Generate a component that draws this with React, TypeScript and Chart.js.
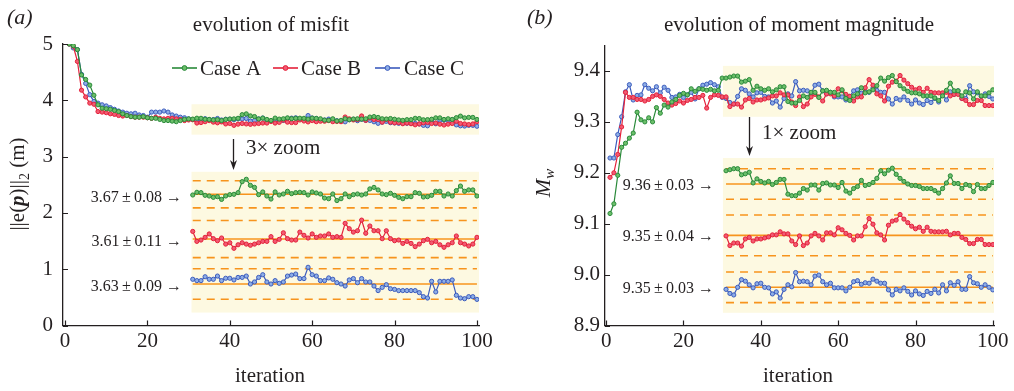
import React, { useEffect, useRef } from "react";
import { Chart, registerables } from "chart.js";

Chart.register(...registerables);

// ---------------- data ----------------
const iterations: number[] = Array.from({ length: 100 }, (_, i) => i + 1);
const caseNames = ["Case A", "Case B", "Case C"];

const misfitA = [
  5.0, 4.97, 4.9, 4.45, 4.37, 4.27, 4.09, 3.92, 3.86, 3.85, 3.84, 3.82, 3.8, 3.76, 3.73, 3.71, 3.7, 3.7, 3.71, 3.69,
  3.68, 3.68, 3.66, 3.64, 3.64, 3.63, 3.62, 3.64, 3.66, 3.67,
  3.666, 3.682, 3.68, 3.664, 3.66, 3.652, 3.656, 3.64, 3.66, 3.668, 3.67, 3.68, 3.745, 3.759, 3.723, 3.711, 3.668, 3.684,
  3.66, 3.642, 3.684, 3.666, 3.672, 3.688, 3.674, 3.68, 3.682, 3.68, 3.666, 3.684, 3.678, 3.672, 3.648, 3.644, 3.672, 3.633,
  3.644, 3.672, 3.656, 3.668, 3.672, 3.666, 3.672, 3.702, 3.711, 3.696, 3.672, 3.668, 3.676, 3.664, 3.652, 3.644, 3.656,
  3.656, 3.68, 3.676, 3.654, 3.656, 3.664, 3.688, 3.688, 3.66, 3.672, 3.66, 3.692, 3.719, 3.688, 3.696, 3.696, 3.66,
];
const misfitB = [
  5.0, 4.96, 4.69, 4.18, 4.06, 3.95, 3.93, 3.8, 3.79, 3.78, 3.76, 3.75, 3.73, 3.72, 3.73, 3.71, 3.7, 3.7, 3.7, 3.69,
  3.68, 3.7, 3.68, 3.67, 3.68, 3.68, 3.67, 3.66, 3.64, 3.65,
  3.655, 3.596, 3.604, 3.62, 3.64, 3.612, 3.6, 3.616, 3.58, 3.588, 3.555, 3.576, 3.588, 3.58, 3.573, 3.58, 3.588, 3.596,
  3.596, 3.624, 3.596, 3.608, 3.647, 3.612, 3.604, 3.604, 3.651, 3.632, 3.616, 3.64, 3.62, 3.628, 3.628, 3.64, 3.62, 3.624,
  3.62, 3.703, 3.671, 3.651, 3.659, 3.722, 3.644, 3.687, 3.659, 3.659, 3.612, 3.659, 3.612, 3.6, 3.604, 3.584, 3.596,
  3.584, 3.565, 3.58, 3.6, 3.608, 3.588, 3.596, 3.576, 3.561, 3.576, 3.588, 3.628, 3.588, 3.58, 3.569, 3.58, 3.62,
];
const misfitC = [
  5.0, 4.93, 4.9, 4.46, 4.3, 4.1, 3.98, 3.95, 3.92, 3.9, 3.87, 3.84, 3.81, 3.79, 3.77, 3.76, 3.77, 3.74, 3.73, 3.7,
  3.79, 3.79, 3.79, 3.81, 3.79, 3.74, 3.72, 3.7, 3.69, 3.67,
  3.658, 3.65, 3.65, 3.673, 3.658, 3.658, 3.677, 3.65, 3.664, 3.664, 3.654, 3.669, 3.669, 3.677, 3.63, 3.642, 3.669, 3.685,
  3.642, 3.63, 3.65, 3.634, 3.642, 3.677, 3.683, 3.689, 3.662, 3.662, 3.729, 3.685, 3.677, 3.65, 3.65, 3.666, 3.658, 3.638,
  3.63, 3.618, 3.654, 3.662, 3.638, 3.662, 3.642, 3.642, 3.618, 3.591, 3.61, 3.626, 3.602, 3.598, 3.591, 3.591, 3.591,
  3.591, 3.591, 3.579, 3.555, 3.547, 3.646, 3.583, 3.646, 3.646, 3.646, 3.654, 3.563, 3.547, 3.543, 3.555, 3.555, 3.539,
];

const mwA = [
  9.12, 9.139, 9.195, 9.25, 9.258, 9.268, 9.278, 9.319, 9.304, 9.3, 9.308, 9.3, 9.328, 9.317, 9.333, 9.329, 9.339, 9.344,
  9.352, 9.356, 9.353, 9.365, 9.36, 9.365, 9.364, 9.362, 9.364, 9.361, 9.362, 9.386,
  9.386, 9.388, 9.39, 9.39, 9.378, 9.38, 9.383, 9.362, 9.37, 9.365, 9.362, 9.365, 9.359, 9.363, 9.369, 9.369, 9.34, 9.337,
  9.337, 9.342, 9.351, 9.348, 9.358, 9.358, 9.348, 9.361, 9.362, 9.358, 9.358, 9.353, 9.363, 9.346, 9.342, 9.351, 9.355, 9.367,
  9.357, 9.359, 9.363, 9.371, 9.386, 9.38, 9.387, 9.391, 9.379, 9.371, 9.365, 9.36, 9.357, 9.357, 9.355, 9.351, 9.351,
  9.351, 9.347, 9.342, 9.351, 9.362, 9.376, 9.361, 9.361, 9.351, 9.359, 9.357, 9.345, 9.359, 9.351, 9.351, 9.357, 9.363,
];
const mwB = [
  9.191, 9.2, 9.236, 9.29, 9.358, 9.348, 9.348, 9.344, 9.344, 9.341, 9.344, 9.35, 9.353, 9.35, 9.344, 9.337, 9.333, 9.336,
  9.341, 9.337, 9.342, 9.344, 9.348, 9.348, 9.352, 9.327, 9.348, 9.353, 9.352, 9.349,
  9.349, 9.33, 9.335, 9.335, 9.329, 9.343, 9.346, 9.339, 9.343, 9.343, 9.345, 9.347, 9.351, 9.351, 9.357, 9.353, 9.353, 9.339,
  9.332, 9.349, 9.33, 9.335, 9.349, 9.354, 9.349, 9.341, 9.355, 9.355, 9.351, 9.365, 9.361, 9.354, 9.35, 9.341, 9.349, 9.349,
  9.367, 9.383, 9.372, 9.355, 9.351, 9.341, 9.37, 9.378, 9.38, 9.391, 9.382, 9.375, 9.368, 9.363, 9.366, 9.358, 9.366,
  9.358, 9.357, 9.357, 9.357, 9.358, 9.351, 9.354, 9.354, 9.346, 9.342, 9.334, 9.334, 9.342, 9.342, 9.332, 9.332, 9.332,
];
const mwC = [
  9.229, 9.229, 9.275, 9.31, 9.359, 9.373, 9.343, 9.352, 9.353, 9.373, 9.366, 9.361, 9.369, 9.357, 9.368, 9.362, 9.348,
  9.349, 9.354, 9.348, 9.353, 9.358, 9.345, 9.365, 9.372, 9.374, 9.377, 9.373, 9.369, 9.348,
  9.346, 9.338, 9.335, 9.35, 9.365, 9.362, 9.355, 9.349, 9.357, 9.358, 9.35, 9.349, 9.337, 9.341, 9.329, 9.346, 9.355, 9.351,
  9.379, 9.361, 9.362, 9.361, 9.355, 9.372, 9.374, 9.361, 9.355, 9.358, 9.349, 9.349, 9.349, 9.343, 9.35, 9.361, 9.363, 9.356,
  9.359, 9.358, 9.366, 9.362, 9.358, 9.358, 9.345, 9.335, 9.346, 9.343, 9.349, 9.342, 9.335, 9.343, 9.337, 9.334, 9.342,
  9.338, 9.346, 9.339, 9.355, 9.343, 9.359, 9.354, 9.361, 9.346, 9.346, 9.371, 9.359, 9.357, 9.35, 9.355, 9.35, 9.345,
];

const xTickValues = [0, 20, 40, 60, 80, 100];
const misfitTickValues = [0, 1, 2, 3, 4, 5];
const mwTickValues = [8.9, 9.0, 9.1, 9.2, 9.3, 9.4];

const misfitMeans = [3.67, 3.61, 3.63];
const misfitStds = [0.08, 0.11, 0.09];
const mwMeans = [9.36, 9.35, 9.35];
const mwStds = [0.03, 0.04, 0.03];
const misfitInsetCenters = [2.33, 1.536, 0.737];
const mwInsetCenters = [9.178, 9.077, 8.975];
const misfitZoom = 3;
const mwZoom = 1;
const insetStart = 31;
const insetEnd = 100;

// ---------------- styles ----------------
const SERIF = '"Liberation Serif", "DejaVu Serif", "Times New Roman", serif';
const INK = "#231f20";
const LINE_COLORS = ["#2a8a3a", "#e4213a", "#3c5cbd"];
const FILL_COLORS = ["#6cbf6a", "#f25a72", "#8eaee6"];
const ORANGE = "#f7941d";
const BAND = "#fdf9e1";

type Panel = {
  series: number[][];
  means: number[];
  stds: number[];
  centers: number[];
  zoom: number;
  xRange: [number, number];
  yRange: [number, number];
  yTicks: number[];
  yDecimals: number;
  yAxisWidth: number;
  yLabelPad: number;
  padTop: number;
  padRight: number;
  xAxisHeight: number;
  bandX: [number, number];
  topBand: [number, number];
  insetBand: [number, number];
  offsetX: number;
  tag: string;
  tagX: number;
  title: string;
  titleX: number;
  xTitleX: number;
  arrowX: number;
  arrowY: [number, number];
  zoomText: string;
  zoomTextX: number;
  zoomTextY: number;
  labelRight: number;
  labelDy: number;
  legend: boolean;
  yTitle: "misfit" | "mw";
  yTitleX: number;
  yTitleY: number;
};

function drawYTitleMisfit(ctx: CanvasRenderingContext2D, cx: number, cy: number) {
  const pieces: { t: string; f: string; dy: number }[] = [
    { t: "||e(", f: `21px ${SERIF}`, dy: 0 },
    { t: "p", f: `italic bold 21px ${SERIF}`, dy: 0 },
    { t: ")||", f: `21px ${SERIF}`, dy: 0 },
    { t: "2", f: `14px ${SERIF}`, dy: 5 },
    { t: " (m)", f: `21px ${SERIF}`, dy: 0 },
  ];
  ctx.save();
  ctx.translate(cx, cy);
  ctx.rotate(-Math.PI / 2);
  let total = 0;
  for (const p of pieces) {
    ctx.font = p.f;
    total += ctx.measureText(p.t).width;
  }
  let x = -total / 2;
  ctx.textAlign = "left";
  ctx.textBaseline = "alphabetic";
  for (const p of pieces) {
    ctx.font = p.f;
    ctx.fillText(p.t, x, 7 + p.dy);
    x += ctx.measureText(p.t).width;
  }
  ctx.restore();
}

function drawYTitleMw(ctx: CanvasRenderingContext2D, cx: number, cy: number) {
  ctx.save();
  ctx.translate(cx, cy);
  ctx.rotate(-Math.PI / 2);
  ctx.font = `italic 22px ${SERIF}`;
  const wM = ctx.measureText("M").width;
  ctx.font = `italic 15px ${SERIF}`;
  const wW = ctx.measureText("w").width;
  let x = -(wM + wW) / 2;
  ctx.textAlign = "left";
  ctx.textBaseline = "alphabetic";
  ctx.font = `italic 22px ${SERIF}`;
  ctx.fillText("M", x, 7);
  x += wM;
  ctx.font = `italic 15px ${SERIF}`;
  ctx.fillText("w", x, 11);
  ctx.restore();
}

function makeConfig(p: Panel): any {
  const datasets: any[] = [];
  p.series.forEach((vals, k) => {
    datasets.push({
      label: caseNames[k],
      data: iterations.map((it, i) => ({ x: it, y: vals[i] })),
      borderColor: LINE_COLORS[k],
      backgroundColor: FILL_COLORS[k],
      pointBackgroundColor: FILL_COLORS[k],
      pointBorderColor: LINE_COLORS[k],
      pointRadius: 2.1,
      pointBorderWidth: 1,
      borderWidth: 1.2,
      order: 1 + k,
    });
  });
  p.series.forEach((vals, k) => {
    datasets.push({
      label: caseNames[k] + " zoom",
      data: iterations
        .map((it, i) => ({ x: it, v: vals[i] }))
        .filter((d) => d.x >= insetStart)
        .map((d) => ({ x: d.x, y: p.centers[k] + p.zoom * (d.v - p.means[k]) })),
      borderColor: LINE_COLORS[k],
      backgroundColor: FILL_COLORS[k],
      pointBackgroundColor: FILL_COLORS[k],
      pointBorderColor: LINE_COLORS[k],
      pointRadius: 2.1,
      pointBorderWidth: 1,
      borderWidth: 1.2,
      order: 1,
    });
  });
  p.centers.forEach((c, k) => {
    const d = p.zoom * p.stds[k];
    const refs = [
      { y: c, dash: [] as number[] },
      { y: c + d, dash: [8, 6] },
      { y: c - d, dash: [8, 6] },
    ];
    refs.forEach((r) => {
      datasets.push({
        label: "ref",
        data: [
          { x: insetStart, y: r.y },
          { x: insetEnd, y: r.y },
        ],
        borderColor: ORANGE,
        borderWidth: 1.6,
        borderDash: r.dash,
        pointRadius: 0,
        order: 10,
      });
    });
  });

  const bandPlugin = {
    id: "bands",
    beforeDatasetsDraw(chart: any) {
      const { ctx } = chart;
      const x = chart.scales.x;
      const y = chart.scales.y;
      ctx.save();
      ctx.fillStyle = BAND;
      for (const [y0, y1] of [p.topBand, p.insetBand]) {
        const px0 = x.getPixelForValue(p.bandX[0]);
        const px1 = x.getPixelForValue(p.bandX[1]);
        const py0 = y.getPixelForValue(y1);
        const py1 = y.getPixelForValue(y0);
        ctx.fillRect(px0, py0, px1 - px0, py1 - py0);
      }
      ctx.restore();
    },
  };

  const decorPlugin = {
    id: "decor",
    afterDraw(chart: any) {
      const { ctx, chartArea: a } = chart;
      const x = chart.scales.x;
      const y = chart.scales.y;
      const ox = p.offsetX;
      ctx.save();
      ctx.strokeStyle = INK;
      ctx.fillStyle = INK;
      // inward ticks
      ctx.lineWidth = 1.2;
      ctx.beginPath();
      for (const v of p.yTicks) {
        const py = Math.round(y.getPixelForValue(v)) + 0.5;
        ctx.moveTo(a.left, py);
        ctx.lineTo(a.left + 5, py);
      }
      for (const v of xTickValues) {
        const px = Math.round(x.getPixelForValue(v)) + 0.5;
        ctx.moveTo(px, a.bottom);
        ctx.lineTo(px, a.bottom - 5);
      }
      ctx.stroke();

      // panel tag + title
      ctx.textBaseline = "alphabetic";
      ctx.textAlign = "left";
      ctx.font = `italic 22px ${SERIF}`;
      ctx.fillText(p.tag, p.tagX - ox, 24);
      ctx.textAlign = "center";
      ctx.font = `21px ${SERIF}`;
      ctx.fillText(p.title, p.titleX - ox, 31);
      ctx.fillText("iteration", p.xTitleX - ox, 382);

      // zoom arrow
      const ax = p.arrowX - ox + 0.5;
      ctx.lineWidth = 1.3;
      ctx.beginPath();
      ctx.moveTo(ax, p.arrowY[0]);
      ctx.lineTo(ax, p.arrowY[1] - 6);
      ctx.stroke();
      ctx.beginPath();
      ctx.moveTo(ax, p.arrowY[1]);
      ctx.lineTo(ax - 3.5, p.arrowY[1] - 10);
      ctx.lineTo(ax, p.arrowY[1] - 7);
      ctx.lineTo(ax + 3.5, p.arrowY[1] - 10);
      ctx.closePath();
      ctx.fill();
      ctx.textAlign = "left";
      ctx.textBaseline = "middle";
      ctx.font = `21px ${SERIF}`;
      ctx.fillText(p.zoomText, p.zoomTextX - ox, p.zoomTextY);

      // inset labels
      ctx.textAlign = "right";
      ctx.font = `16px ${SERIF}`;
      p.centers.forEach((c, k) => {
        const txt = `${p.means[k].toFixed(2)}\u2009\u00b1\u2009${p.stds[k].toFixed(2)} \u2192`;
        ctx.fillText(txt, p.labelRight - ox, y.getPixelForValue(c) + p.labelDy);
      });

      // legend
      if (p.legend) {
        const items = [
          [172, 197, 200],
          [273, 298, 301],
          [375, 400, 404],
        ];
        const ly = 68;
        items.forEach(([x0, x1, tx], k) => {
          ctx.strokeStyle = LINE_COLORS[k];
          ctx.lineWidth = 1.6;
          ctx.beginPath();
          ctx.moveTo(x0 - ox, ly);
          ctx.lineTo(x1 - ox, ly);
          ctx.stroke();
          ctx.beginPath();
          ctx.arc((x0 + x1) / 2 - ox, ly, 2.4, 0, Math.PI * 2);
          ctx.fillStyle = FILL_COLORS[k];
          ctx.fill();
          ctx.lineWidth = 1;
          ctx.stroke();
          ctx.fillStyle = INK;
          ctx.textAlign = "left";
          ctx.textBaseline = "middle";
          ctx.font = `21px ${SERIF}`;
          ctx.fillText(caseNames[k], tx - ox, ly + 1);
        });
      }

      // y title
      ctx.fillStyle = INK;
      if (p.yTitle === "misfit") drawYTitleMisfit(ctx, p.yTitleX - ox, p.yTitleY);
      else drawYTitleMw(ctx, p.yTitleX - ox, p.yTitleY);
      ctx.restore();
    },
  };

  return {
    type: "line",
    data: { datasets },
    plugins: [bandPlugin, decorPlugin],
    options: {
      animation: false,
      responsive: false,
      maintainAspectRatio: false,
      layout: { padding: { top: p.padTop, right: p.padRight, left: 0, bottom: 0 } },
      plugins: { legend: { display: false }, tooltip: { enabled: false } },
      elements: { line: { tension: 0 } },
      scales: {
        x: {
          type: "linear",
          min: p.xRange[0],
          max: p.xRange[1],
          afterFit: (s: any) => {
            s.height = p.xAxisHeight;
          },
          afterBuildTicks: (s: any) => {
            s.ticks = xTickValues.map((v) => ({ value: v }));
          },
          grid: { display: false, drawTicks: false },
          border: { display: true, color: INK, width: 1.3 },
          ticks: {
            color: INK,
            font: { family: SERIF, size: 21 },
            padding: 3,
            maxRotation: 0,
            autoSkip: false,
            callback: (v: any) => String(v),
          },
        },
        y: {
          type: "linear",
          min: p.yRange[0],
          max: p.yRange[1],
          afterFit: (s: any) => {
            s.width = p.yAxisWidth;
          },
          afterBuildTicks: (s: any) => {
            s.ticks = p.yTicks.map((v) => ({ value: v }));
          },
          grid: { display: false, drawTicks: false },
          border: { display: true, color: INK, width: 1.3 },
          ticks: {
            color: INK,
            font: { family: SERIF, size: 21 },
            padding: p.yLabelPad,
            autoSkip: false,
            callback: (v: any) => Number(v).toFixed(p.yDecimals),
          },
        },
      },
    },
  };
}

const leftPanel: Panel = {
  series: [misfitA, misfitB, misfitC],
  means: misfitMeans,
  stds: misfitStds,
  centers: misfitInsetCenters,
  zoom: misfitZoom,
  xRange: [-0.5, 100.5],
  yRange: [0, 5],
  yTicks: misfitTickValues,
  yDecimals: 0,
  yAxisWidth: 63,
  yLabelPad: 10,
  padTop: 44,
  padRight: 28,
  xAxisHeight: 65.5,
  bandX: [30.7, 100.5],
  topBand: [3.39, 3.93],
  insetBand: [0.23, 2.73],
  offsetX: 0,
  tag: "(a)",
  tagX: 7,
  title: "evolution of misfit",
  titleX: 271,
  xTitleX: 270,
  arrowX: 233,
  arrowY: [139, 170],
  zoomText: "3\u00d7 zoom",
  zoomTextX: 246,
  zoomTextY: 148,
  labelRight: 182,
  labelDy: 3,
  legend: true,
  yTitle: "misfit",
  yTitleX: 17,
  yTitleY: 184,
};

const rightPanel: Panel = {
  series: [mwA, mwB, mwC],
  means: mwMeans,
  stds: mwStds,
  centers: mwInsetCenters,
  zoom: mwZoom,
  xRange: [-0.3, 100.3],
  yRange: [8.9, 9.45],
  yTicks: mwTickValues,
  yDecimals: 1,
  yAxisWidth: 98,
  yLabelPad: 5,
  padTop: 45.5,
  padRight: 20,
  xAxisHeight: 65.5,
  bandX: [30.2, 100.3],
  topBand: [9.31, 9.41],
  insetBand: [8.925, 9.229],
  offsetX: 507,
  tag: "(b)",
  tagX: 527,
  title: "evolution of moment magnitude",
  titleX: 799,
  xTitleX: 798,
  arrowX: 749,
  arrowY: [117, 156],
  zoomText: "1\u00d7 zoom",
  zoomTextX: 762,
  zoomTextY: 133,
  labelRight: 714,
  labelDy: 1.5,
  legend: false,
  yTitle: "mw",
  yTitleX: 543,
  yTitleY: 183,
};

function PanelChart({ panel }: { panel: Panel }) {
  const ref = useRef<HTMLCanvasElement | null>(null);
  useEffect(() => {
    if (!ref.current) return;
    const chart = new Chart(ref.current, makeConfig(panel));
    return () => chart.destroy();
  }, [panel]);
  return (
    <canvas
      ref={ref}
      width={507}
      height={391}
      style={{ position: "absolute", left: panel.offsetX, top: 0, width: 507, height: 391 }}
    />
  );
}

export default function App() {
  return (
    <div
      style={{
        position: "fixed",
        left: 0,
        top: 0,
        width: 1014,
        height: 391,
        background: "#ffffff",
        overflow: "hidden",
      }}
    >
      <PanelChart panel={leftPanel} />
      <PanelChart panel={rightPanel} />
    </div>
  );
}
